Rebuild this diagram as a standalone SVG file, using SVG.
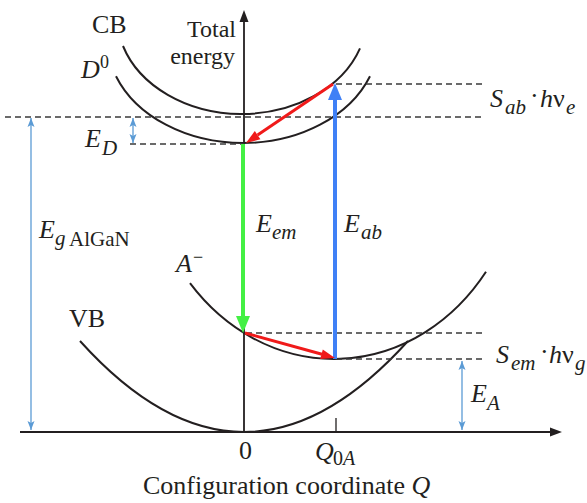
<svg xmlns="http://www.w3.org/2000/svg" width="587" height="503" viewBox="0 0 587 503">
<defs>
<style>
.t{font-family:"Liberation Serif","Times New Roman",serif;font-size:26px;fill:#231f20}
.i{font-style:italic}
.sub{font-size:21px}
.sup{font-size:18px}
.curve{fill:none;stroke:#231f20;stroke-width:2}
.axis{fill:none;stroke:#231f20;stroke-width:2}
.dash{fill:none;stroke:#3a3a3a;stroke-width:1.3;stroke-dasharray:6 4}
.thin{fill:none;stroke:#5b9bd5;stroke-width:1.3;marker-start:url(#bh);marker-end:url(#bh)}
</style>
<marker id="bh" markerUnits="userSpaceOnUse" markerWidth="10" markerHeight="10" viewBox="0 0 10 10" refX="9" refY="5" orient="auto-start-reverse">
<path d="M0,1.5 L9,5 L0,8.5 L2,5 Z" fill="#5b9bd5"/>
</marker>
</defs>
<g id="axes">
<line class="axis" x1="20" y1="432" x2="552" y2="432"/>
<polygon points="562,432 550,427.5 550,436.5" fill="#231f20"/>
<line class="axis" x1="244" y1="432" x2="244" y2="20" style="stroke-width:1.8"/>
<polygon points="244,10 239.5,22 248.5,22" fill="#231f20"/>
<line class="axis" x1="336" y1="418" x2="336" y2="432" style="stroke-width:1.3"/>
</g>
<g id="curves">
<path id="CB" class="curve" d="M123,46 A125,98 0 0,0 360,48.3"/>
<path id="D0" class="curve" d="M116,76.2 A136,104 0 0,0 370,76.2"/>
<path id="Aminus" class="curve" d="M190,283.2 A190,218 0 0,0 486,271.8"/>
<path id="VB" class="curve" d="M80,341 Q244,523 408,341"/>
</g>
<g id="dashes">
<line class="dash" x1="336" y1="84" x2="485" y2="84"/>
<line class="dash" x1="5" y1="117" x2="485" y2="117"/>
<line class="dash" x1="130" y1="144" x2="244" y2="144"/>
<line class="dash" x1="246" y1="333" x2="483" y2="333"/>
<line class="dash" x1="336" y1="359" x2="483" y2="359"/>
</g>
<g id="connectors">
<line class="thin" x1="31" y1="430" x2="31" y2="118"/>
<line class="thin" x1="133" y1="143" x2="133" y2="118"/>
<line class="thin" x1="462" y1="430" x2="462" y2="361"/>
<line x1="243" y1="144" x2="243" y2="318" stroke="#44f044" stroke-width="4"/>
<polygon points="236,316 250,316 243,333" fill="#44f044"/>
<line x1="335" y1="359" x2="335" y2="99" stroke="#3f80f6" stroke-width="4"/>
<polygon points="328,100 342,100 335,83" fill="#3f80f6"/>
<line x1="333" y1="84" x2="257.6" y2="135.1" stroke="#f01a1a" stroke-width="3"/>
<polygon points="246,143 260.4,139.3 254.8,131" fill="#f01a1a"/>
<line x1="245" y1="333" x2="322" y2="354.3" stroke="#f01a1a" stroke-width="3"/>
<polygon points="335,358 320.2,359.1 322.8,349.4" fill="#f01a1a"/>
</g>
<g id="labels">
<text class="t" x="92" y="33">CB</text>
<text class="t" text-anchor="end" style="font-size:24px"><tspan x="236" y="37">Total</tspan><tspan x="235" y="64">energy</tspan></text>
<text class="t i" x="81" y="78">D</text>
<text class="t sup" x="100" y="68">0</text>
<text class="t i" x="85" y="147">E</text>
<text class="t i sub" x="102" y="155">D</text>
<text class="t i" x="39" y="238">E</text>
<text class="t i sub" x="55" y="245">g</text>
<text class="t sub" x="69" y="246">AlGaN</text>
<text class="t i" x="256" y="232">E</text>
<text class="t i sub" x="272" y="239">em</text>
<text class="t i" x="344" y="232">E</text>
<text class="t i sub" x="361" y="239">ab</text>
<text class="t i" x="176" y="272">A</text>
<text class="t sup" x="193" y="263">−</text>
<text class="t" x="69" y="327">VB</text>
<text class="t i" x="490" y="107">S</text>
<text class="t i sub" x="505" y="114">ab</text>
<text class="t" x="530" y="104">·</text>
<text class="t i" x="540" y="107">h</text>
<text class="t" x="553" y="107">ν</text>
<text class="t i sub" x="566" y="114">e</text>
<text class="t i" x="496" y="363">S</text>
<text class="t i sub" x="511" y="370">em</text>
<text class="t" x="540" y="360">·</text>
<text class="t i" x="549" y="363">h</text>
<text class="t" x="562" y="363">ν</text>
<text class="t i sub" x="575" y="370">g</text>
<text class="t i" x="471" y="402">E</text>
<text class="t i sub" x="487" y="410">A</text>
<text class="t" x="239" y="459">0</text>
<text class="t i" x="315" y="460">Q</text>
<text class="t" x="333" y="465" style="font-size:20px">0<tspan class="i">A</tspan></text>
<text class="t" x="143" y="494">Configuration coordinate <tspan class="i">Q</tspan></text>
</g>
</svg>
